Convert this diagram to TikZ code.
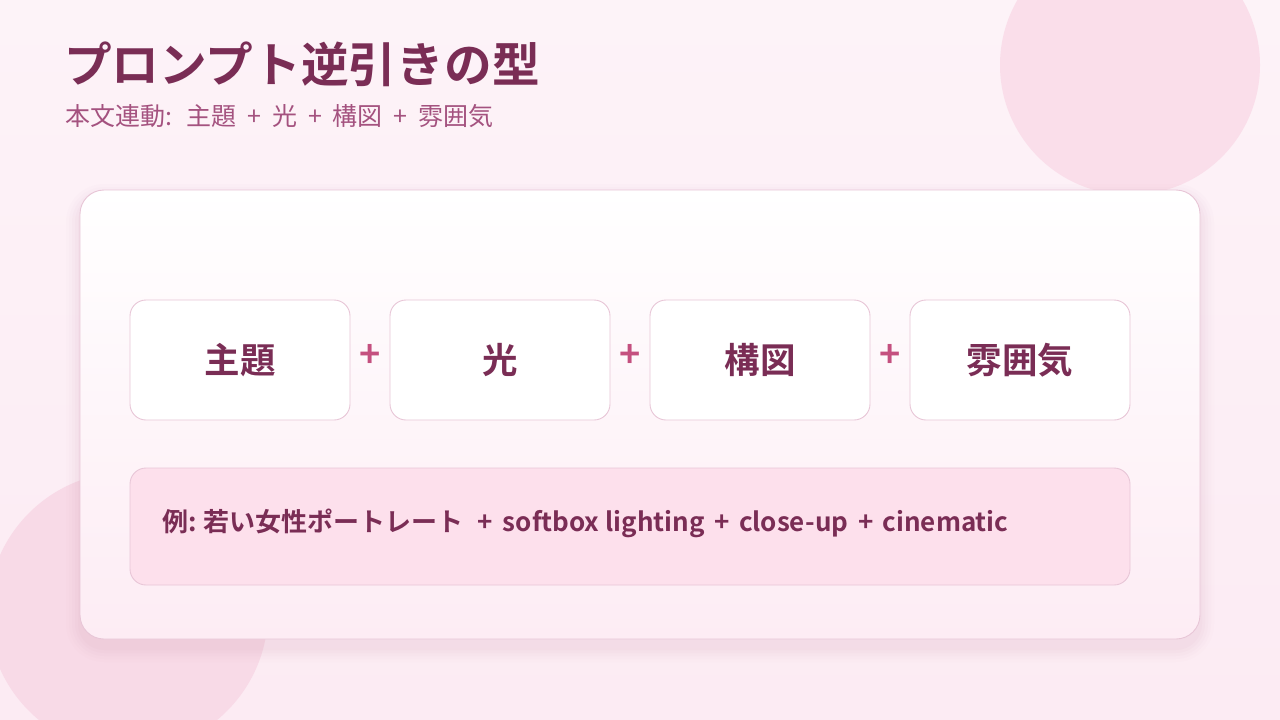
\documentclass[tikz,border=0pt]{standalone}
\usepackage{fontspec}
\setmainfont{Noto Sans CJK JP}[BoldFont=* Bold]
\definecolor{bgtop}{HTML}{FDF3F8}
\definecolor{bgbot}{HTML}{FCEBF3}
\definecolor{circc}{HTML}{FADEEA}
\definecolor{circd}{HTML}{F8DAE7}
\definecolor{titlec}{HTML}{7A2D55}
\definecolor{subc}{HTML}{A4527F}
\definecolor{plusc}{HTML}{C4507F}
\definecolor{edgec}{HTML}{E8C6D7}
\definecolor{cardbot}{HTML}{FDECF4}
\definecolor{exfill}{HTML}{FDE0EC}
\definecolor{shadowc}{HTML}{C98AA8}
\newcommand{\subplus}{\hspace{11pt}+\hspace{11pt}}
\newcommand{\explus}{\hspace{10pt}+\hspace{9pt}}
\tikzset{
  termbox/.style={draw=edgec, line width=0.9pt, fill=white, rounded corners=16pt,
    minimum width=220pt, minimum height=120pt, inner sep=0pt,
    text=titlec, font=\bfseries\fontsize{35.5}{38}\selectfont},
  plussign/.style={text=plusc, font=\bfseries\fontsize{36}{40}\selectfont, inner sep=0pt},
  exbox/.style={draw=edgec, line width=0.9pt, fill=exfill, rounded corners=16pt,
    minimum width=1000pt, minimum height=117pt, inner sep=0pt},
  extext/.style={text=titlec, font=\bfseries\fontsize{26}{28}\selectfont, inner sep=0pt, anchor=west},
}
\begin{document}
\begin{tikzpicture}[x=1pt,y=-1pt]
\useasboundingbox (0,0) rectangle (1280,720);
\shade[top color=bgtop, bottom color=bgbot] (0,0) rectangle (1280,720);
% decorative circles
\fill[circc] (1130,65) circle (130);
\fill[circd] (128,612) circle (140);
% card shadow
\foreach \i/\o in {14/0.02,11/0.025,8/0.03,5/0.035,2/0.04}{
  \fill[shadowc, opacity=\o, rounded corners=24pt+\i pt] (80-\i,198-\i) rectangle (1200+\i,648+\i);
}
% main card
\shade[top color=white, bottom color=cardbot, rounded corners=24pt]
  (80,190) rectangle (1200,639);
\node[draw=edgec, line width=0.9pt, rounded corners=24pt, minimum width=1120pt, minimum height=449pt, inner sep=0pt] (card) at (640,414.5) {};
% title
\node[anchor=west, text=titlec, font=\bfseries\fontsize{47.7}{50}\selectfont, inner sep=0pt] (title) at (64,64) {プロンプト逆引きの型};
\node[anchor=west, text=subc, font=\fontsize{25}{28}\selectfont, inner sep=0pt] (subtitle) at (65,116)
  {本文連動:\hspace{14pt}主題\subplus 光\subplus 構図\subplus 雰囲気};
% term boxes
\node[termbox] (b1) at (240,360) {\raisebox{3pt}{主題}};
\node[termbox] (b2) at (500,360) {\raisebox{3pt}{光}};
\node[termbox] (b3) at (760,360) {\raisebox{3pt}{構図}};
\node[termbox] (b4) at (1020,360) {\raisebox{3pt}{雰囲気}};
\node[plussign] (p1) at (370,356) {+};
\node[plussign] (p2) at (630,356) {+};
\node[plussign] (p3) at (890,356) {+};
% example
\node[exbox] (ex) at (630,526.5) {};
\node[extext] (extxt) at (162,523)
  {例:\hspace{7pt}若い女性ポートレート{\fontsize{26}{28}\selectfont\hspace{14pt}+\hspace{10pt}softbox lighting\explus close-up\explus cinematic}};
\end{tikzpicture}
\end{document}
